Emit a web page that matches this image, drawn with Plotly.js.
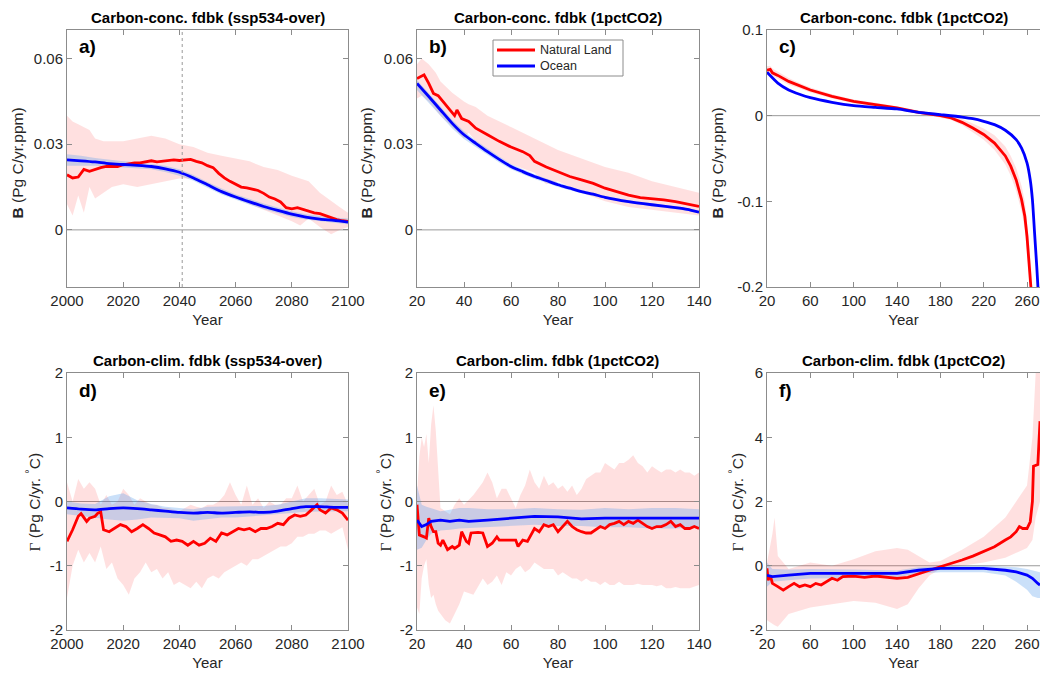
<!DOCTYPE html>
<html><head><meta charset="utf-8">
<script src="https://cdn.plot.ly/plotly-3.0.1.min.js"></script>
<style>body{margin:0;background:#fff}#chart{width:1040px;height:673px}</style>
</head><body><div id="chart"></div>
<script>
// ---------- Panel a: carbon-concentration feedback, ssp534-over ----------
const aLandYears = [2000,2002,2004,2006,2008,2010,2012,2014,2016,2018,2020,2022,2024,2026,2028,2030,2032,2034,2036,2038,2040,2042,2044,2046,2048,2050,2052,2054,2056,2058,2060,2062,2064,2066,2068,2070,2072,2074,2076,2078,2080,2082,2084,2086,2088,2090,2092,2094,2096,2098,2100];
const aLand = [0.0193,0.0182,0.0185,0.0212,0.0205,0.0212,0.0218,0.0222,0.0222,0.0222,0.0228,0.0232,0.0235,0.0235,0.0238,0.0242,0.0238,0.024,0.0242,0.0245,0.0243,0.0245,0.0247,0.024,0.0235,0.0225,0.0218,0.0198,0.0182,0.017,0.016,0.015,0.0147,0.0142,0.0138,0.0128,0.0115,0.0108,0.0098,0.0078,0.0074,0.0078,0.0072,0.0065,0.006,0.0057,0.005,0.0042,0.0036,0.0032,0.003];
const aBandYears = [2000,2002,2004,2006,2008,2010,2013,2016,2020,2025,2030,2035,2040,2045,2050,2055,2060,2065,2070,2075,2080,2083,2086,2090,2094,2097,2100];
const aLandHi = [0.040,0.038,0.037,0.036,0.035,0.032,0.031,0.031,0.031,0.032,0.033,0.032,0.030,0.029,0.027,0.026,0.025,0.024,0.022,0.021,0.019,0.018,0.017,0.013,0.010,0.008,0.006];
const aLandLo = [0.009,0.005,0.012,0.006,0.015,0.011,0.013,0.015,0.016,0.015,0.016,0.017,0.018,0.018,0.016,0.013,0.011,0.009,0.007,0.005,0.003,0.0015,0.004,0.001,-0.0015,0.0,0.001];
const aOceanYears = [2000,2005,2010,2015,2020,2025,2030,2035,2040,2045,2050,2055,2060,2065,2070,2075,2080,2085,2090,2095,2100];
const aOcean = [0.0245,0.0242,0.0238,0.0232,0.0229,0.0226,0.0222,0.0214,0.0202,0.0182,0.0158,0.0134,0.0115,0.0098,0.0082,0.0068,0.0055,0.0045,0.0038,0.0033,0.0027];
const aOceanHi = [0.0265,0.026,0.0252,0.0245,0.024,0.0237,0.0232,0.0225,0.0212,0.0192,0.0168,0.0145,0.0125,0.0108,0.0092,0.0078,0.0065,0.0055,0.0048,0.0043,0.004];
const aOceanLo = [0.0225,0.0225,0.0225,0.022,0.0218,0.0215,0.0212,0.0203,0.019,0.0172,0.0148,0.0124,0.0105,0.0088,0.0072,0.0058,0.0045,0.0036,0.003,0.0025,0.002];
const aMarkerYear = 2041;

// ---------- Panel b: carbon-concentration feedback, 1pctCO2 ----------
const bLandYears = [20,23,25,27,29,31,33,35,36,37,39,42,45,50,55,60,65,68,70,75,80,85,90,95,100,105,110,115,120,125,130,135,140];
const bLand = [0.053,0.0543,0.0513,0.0478,0.047,0.045,0.043,0.041,0.040,0.042,0.039,0.038,0.0356,0.0333,0.031,0.029,0.0274,0.026,0.024,0.022,0.0204,0.0187,0.0175,0.0163,0.0146,0.0134,0.0122,0.0113,0.011,0.0105,0.0099,0.0091,0.0082];
const bBandYears = [20,22,25,28,30,35,40,42,45,50,60,70,75,80,90,100,110,120,130,140];
const bLandHi = [0.058,0.060,0.058,0.055,0.052,0.048,0.045,0.044,0.043,0.040,0.036,0.032,0.030,0.028,0.025,0.022,0.020,0.017,0.015,0.013];
const bLandLo = [0.046,0.047,0.045,0.042,0.040,0.036,0.032,0.034,0.031,0.028,0.023,0.020,0.016,0.017,0.013,0.010,0.008,0.007,0.006,0.005];
const bOceanYears = [20,25,30,35,40,45,50,55,60,65,70,75,80,85,90,95,100,110,120,130,135,140];
const bOcean = [0.0513,0.0467,0.042,0.0373,0.0333,0.0303,0.0274,0.0247,0.0222,0.0204,0.0187,0.0173,0.0158,0.0146,0.0134,0.0125,0.0114,0.0099,0.0088,0.0078,0.0072,0.0062];
const bOceanHi = [0.0525,0.048,0.0432,0.0385,0.0345,0.0313,0.0284,0.0257,0.0231,0.0212,0.0195,0.018,0.0165,0.0152,0.014,0.013,0.0119,0.0104,0.0093,0.0083,0.0077,0.0067];
const bOceanLo = [0.049,0.0445,0.04,0.0355,0.0318,0.029,0.0262,0.0236,0.0212,0.0195,0.0178,0.0165,0.015,0.0139,0.0128,0.0119,0.0109,0.0094,0.0083,0.0073,0.0067,0.0057];

// ---------- Panel c: carbon-concentration feedback, 1pctCO2 (long) ----------
const cLandYears = [20,23,25,30,40,50,60,80,100,120,140,160,175,180,190,200,210,220,230,240,245,250,255,258,260,262,264,266];
const cLand = [0.053,0.054,0.050,0.047,0.040,0.035,0.030,0.0226,0.0167,0.0128,0.009,0.0039,0.0012,0,-0.0027,-0.0078,-0.0144,-0.022,-0.032,-0.047,-0.059,-0.075,-0.098,-0.1175,-0.141,-0.168,-0.2,-0.24];
const cLandHi = [0.058,0.058,0.055,0.051,0.044,0.038,0.033,0.025,0.019,0.015,0.011,0.006,0.003,0.002,0.0,-0.004,-0.009,-0.015,-0.023,-0.036,-0.047,-0.061,-0.082,-0.1,-0.122,-0.15,-0.18,-0.22];
const cLandLo = [0.049,0.05,0.046,0.043,0.036,0.032,0.027,0.02,0.0145,0.0105,0.007,0.002,-0.001,-0.002,-0.005,-0.011,-0.019,-0.028,-0.04,-0.057,-0.07,-0.088,-0.112,-0.133,-0.158,-0.186,-0.22,-0.26];
const cOceanYears = [20,30,40,50,60,80,100,120,140,160,180,200,210,220,230,240,250,255,260,263,265,267,269,271];
const cOcean = [0.0506,0.038,0.030,0.025,0.021,0.0156,0.0117,0.0097,0.0078,0.0039,0.0012,-0.0016,-0.0035,-0.0066,-0.0105,-0.017,-0.028,-0.038,-0.055,-0.075,-0.098,-0.137,-0.176,-0.22];

// ---------- Panel d: carbon-climate feedback, ssp534-over ----------
const dLandYears = [2000,2002,2004,2005,2007,2008,2010,2011,2012,2013,2015,2017,2019,2021,2023,2025,2027,2029,2031,2033,2035,2037,2039,2041,2043,2045,2047,2049,2051,2053,2055,2057,2059,2061,2063,2065,2067,2069,2071,2073,2075,2077,2079,2081,2083,2085,2087,2089,2090,2092,2094,2096,2098,2100];
const dLand = [-0.62,-0.44,-0.23,-0.19,-0.31,-0.26,-0.23,-0.18,-0.16,-0.44,-0.47,-0.42,-0.36,-0.39,-0.47,-0.42,-0.36,-0.42,-0.49,-0.52,-0.55,-0.62,-0.60,-0.62,-0.68,-0.62,-0.68,-0.65,-0.57,-0.62,-0.49,-0.52,-0.47,-0.42,-0.44,-0.42,-0.47,-0.42,-0.42,-0.39,-0.34,-0.36,-0.26,-0.21,-0.23,-0.21,-0.13,-0.05,-0.13,-0.18,-0.10,-0.13,-0.18,-0.29];
const dBandYears = [2000,2002,2004,2006,2008,2010,2012,2014,2016,2018,2020,2022,2024,2026,2028,2030,2032,2034,2036,2038,2040,2042,2044,2046,2048,2050,2052,2054,2056,2058,2060,2062,2064,2066,2068,2070,2072,2074,2076,2078,2080,2082,2084,2086,2088,2090,2092,2094,2096,2098,2100];
const dLandHi = [0.3,0.0,0.35,0.2,0.3,0.2,-0.05,0.1,-0.05,0.0,0.2,0.1,-0.05,0.05,0.0,-0.05,-0.05,-0.1,-0.1,-0.12,-0.15,-0.1,-0.05,-0.08,-0.1,-0.05,-0.05,0.0,0.1,0.3,0.1,-0.05,0.25,-0.05,0.05,-0.1,0.0,-0.05,-0.05,0.05,0.05,0.25,0.0,0.1,0.2,-0.05,0.0,0.25,0.1,0.15,-0.05];
const dLandLo = [-1.5,-1.0,-0.75,-0.95,-0.8,-0.95,-0.7,-1.05,-0.95,-1.2,-1.3,-1.45,-1.2,-1.1,-0.95,-1.1,-1.05,-1.2,-1.1,-1.3,-1.25,-1.3,-1.35,-1.25,-1.35,-1.2,-1.15,-1.2,-1.1,-1.05,-1.0,-0.95,-1.0,-0.9,-0.9,-0.85,-0.8,-0.75,-0.7,-0.7,-0.65,-0.55,-0.55,-0.5,-0.5,-0.45,-0.45,-0.5,-0.45,-0.4,-0.75];
const dOceanYears = [2000,2005,2010,2015,2020,2025,2030,2035,2040,2045,2050,2055,2060,2065,2070,2075,2080,2085,2090,2095,2100];
const dOcean = [-0.10,-0.12,-0.13,-0.11,-0.10,-0.11,-0.13,-0.15,-0.17,-0.18,-0.17,-0.18,-0.17,-0.16,-0.17,-0.15,-0.11,-0.08,-0.08,-0.09,-0.09];
const dOceanHi = [0.0,-0.03,-0.04,0.08,0.13,0.02,-0.04,-0.08,-0.1,-0.12,-0.08,-0.08,-0.08,-0.07,-0.07,-0.05,0.0,0.05,0.05,0.04,0.03];
const dOceanLo = [-0.2,-0.22,-0.25,-0.28,-0.3,-0.28,-0.25,-0.25,-0.26,-0.3,-0.28,-0.25,-0.25,-0.23,-0.22,-0.2,-0.18,-0.16,-0.15,-0.15,-0.15];

// ---------- Panel e: carbon-climate feedback, 1pctCO2 ----------
const eLandYears = [20,21,23,24,25,26,27,28,29,30,31,33,35,36,38,39,41,42,43,46,48,50,52,54,55,58,60,62,63,65,67,70,72,74,76,78,80,82,84,86,88,90,92,94,96,98,100,102,104,106,108,110,112,114,116,118,120,122,124,126,128,130,132,134,136,138,140];
const eLand = [-0.05,-0.52,-0.55,-0.57,-0.26,-0.39,-0.47,-0.47,-0.65,-0.68,-0.60,-0.75,-0.70,-0.73,-0.68,-0.47,-0.62,-0.65,-0.49,-0.48,-0.49,-0.70,-0.65,-0.55,-0.60,-0.60,-0.60,-0.60,-0.70,-0.60,-0.62,-0.42,-0.47,-0.36,-0.39,-0.36,-0.47,-0.39,-0.31,-0.39,-0.44,-0.47,-0.49,-0.49,-0.44,-0.39,-0.42,-0.36,-0.34,-0.31,-0.36,-0.31,-0.34,-0.29,-0.34,-0.39,-0.42,-0.39,-0.39,-0.36,-0.31,-0.39,-0.36,-0.42,-0.42,-0.39,-0.42];
const eBandYears = [20,21,22,23,24,25,26,27,28,29,30,32,34,36,38,40,44,48,50,52,54,56,58,60,62,64,66,68,70,72,74,76,78,80,82,84,86,88,90,92,94,96,98,100,102,104,106,108,110,112,114,116,118,120,122,124,126,128,130,132,134,136,138,140];
const eLandHi = [0.1,0.7,1.0,0.85,1.05,0.6,1.2,1.5,1.1,0.4,-0.1,-0.15,-0.2,-0.05,0.05,-0.05,0.1,0.3,0.45,0.3,0.05,0.2,0.2,0.05,-0.1,0.1,0.25,0.5,0.3,0.2,0.4,0.25,0.3,0.2,0.25,0.15,0.25,0.1,0.2,0.35,0.4,0.45,0.45,0.6,0.55,0.5,0.6,0.6,0.65,0.72,0.6,0.55,0.45,0.55,0.5,0.45,0.5,0.5,0.45,0.5,0.45,0.45,0.4,0.45];
const eLandLo = [-1.65,-1.75,-1.2,-1.0,-0.9,-1.3,-1.5,-1.45,-1.6,-1.7,-1.75,-1.85,-1.9,-1.75,-1.6,-1.4,-1.45,-1.2,-1.3,-1.25,-1.15,-1.3,-1.1,-1.15,-1.05,-1.0,-1.1,-1.05,-0.95,-1.0,-1.05,-1.05,-1.05,-1.15,-1.1,-1.15,-1.2,-1.2,-1.25,-1.2,-1.25,-1.25,-1.3,-1.25,-1.3,-1.3,-1.25,-1.3,-1.3,-1.3,-1.28,-1.3,-1.3,-1.3,-1.32,-1.3,-1.35,-1.35,-1.33,-1.35,-1.35,-1.35,-1.33,-1.3];
const eOceanYears = [20,22,24,26,30,34,38,42,50,60,70,80,90,100,110,120,130,140];
const eOcean = [-0.29,-0.39,-0.36,-0.31,-0.29,-0.31,-0.29,-0.31,-0.29,-0.26,-0.23,-0.24,-0.27,-0.26,-0.26,-0.27,-0.27,-0.26];
const eOceanHi = [0.25,-0.05,-0.08,-0.1,-0.15,-0.13,-0.1,-0.1,-0.12,-0.12,-0.1,-0.12,-0.13,-0.1,-0.12,-0.1,-0.1,-0.12];
const eOceanLo = [-0.75,-0.72,-0.6,-0.5,-0.45,-0.44,-0.42,-0.42,-0.4,-0.38,-0.36,-0.38,-0.38,-0.4,-0.4,-0.42,-0.42,-0.4];

// ---------- Panel f: carbon-climate feedback, 1pctCO2 (long) ----------
const fLandYears = [20,21,23,25,30,35,40,45,50,55,60,65,70,75,80,85,90,100,110,120,130,140,150,160,170,180,190,200,210,220,230,240,245,250,253,256,260,263,265,266,270,272];
const fLand = [-0.08,-0.45,-0.3,-0.55,-0.65,-0.76,-0.65,-0.55,-0.65,-0.6,-0.65,-0.55,-0.6,-0.5,-0.39,-0.45,-0.34,-0.32,-0.36,-0.32,-0.36,-0.39,-0.36,-0.24,-0.14,-0.03,0.07,0.18,0.3,0.44,0.59,0.8,0.9,1.06,1.22,1.16,1.16,1.37,2.0,3.1,3.15,4.5];
const fBandYears = [20,25,27,30,40,60,80,100,120,140,150,160,170,180,200,220,240,250,260,265,268,272];
const fLandHi = [0.1,1.0,1.5,0.3,-0.1,0.1,0.0,0.2,0.45,0.55,0.5,0.3,0.1,0.15,0.5,0.9,1.5,2.0,2.5,4.0,6.0,6.0];
const fLandLo = [-1.7,-1.8,-1.85,-1.9,-1.5,-1.3,-1.2,-1.1,-1.15,-1.35,-1.2,-0.7,-0.3,-0.1,0.0,0.1,0.25,0.4,0.55,0.8,1.5,2.0];
const fOceanYears = [20,25,40,60,100,140,160,180,200,220,240,250,260,265,270,272];
const fOcean = [-0.3,-0.34,-0.29,-0.24,-0.24,-0.24,-0.14,-0.08,-0.08,-0.08,-0.14,-0.19,-0.29,-0.39,-0.55,-0.6];
const fOceanHi = [0.1,-0.1,-0.12,-0.1,-0.12,-0.15,-0.05,-0.02,0.0,0.0,-0.02,-0.05,-0.1,-0.15,-0.2,-0.2];
const fOceanLo = [-0.65,-0.5,-0.45,-0.4,-0.38,-0.35,-0.25,-0.2,-0.2,-0.2,-0.3,-0.5,-0.75,-0.95,-1.0,-1.0];

// ---------- labels ----------
const panelTitles = ['Carbon-conc. fdbk (ssp534-over)','Carbon-conc. fdbk (1pctCO2)','Carbon-conc. fdbk (1pctCO2)','Carbon-clim. fdbk (ssp534-over)','Carbon-clim. fdbk (1pctCO2)','Carbon-clim. fdbk (1pctCO2)'];
const panelLetters = ['a)','b)','c)','d)','e)','f)'];
const seriesNames = ['Natural Land','Ocean'];
const yTitleB = '<b>B</b> (Pg C/yr.ppm)';
const yTitleG = '<span style="font-family:Liberation Serif">Γ</span> (Pg C/yr. <sup>°</sup>C)';
const bTicks = [0, 0.03, 0.06];
const bTickText = ['0','0.03','0.06'];
const cTicks = [-0.2,-0.1,0,0.1];
const cTickText = ['-0.2','-0.1','0','0.1'];
const gTicks = [-2,-1,0,1,2];
const gTickText = ['-2','-1','0','1','2'];
const fTicks = [-2,0,2,4,6];
const fTickText = ['-2','0','2','4','6'];
const ssTicks = [2000,2020,2040,2060,2080,2100];
const pcTicks = [20,40,60,80,100,120,140];
const longTicks = [20,60,100,140,180,220,260];

// ---------- styling ----------
const RED = '#ff0000', BLUE = '#0000ff';
const RED_BAND = 'rgba(255,0,0,0.12)', BLUE_BAND = 'rgba(90,160,235,0.32)';
const AX = '#8c8c8c', TXT = '#262626';
const FONT = 'Liberation Sans, Arial, Helvetica, sans-serif';
const W = 1040, H = 673;
const colsPx = [[67,348],[417,699],[767,1040]];
const rowsPx = [[30,287],[373,630]];
const yTitleX = [[17,366,717],[33,384,736]];

function band(x, hi, lo, color, xa, ya) {
  return {x: x.concat(x.slice().reverse()), y: hi.concat(lo.slice().reverse()),
    fill:'toself', fillcolor:color, line:{width:0, color:color}, mode:'lines',
    hoverinfo:'skip', showlegend:false, xaxis:xa, yaxis:ya};
}
function line(x, y, color, xa, ya, name, shape) {
  return {x:x, y:y, mode:'lines', line:{color:color, width:2.8, shape:shape||'linear', smoothing:0.6},
    name:name, showlegend:false, xaxis:xa, yaxis:ya};
}

const traces = [
  band(aBandYears, aLandHi, aLandLo, RED_BAND, 'x','y'),
  band(aOceanYears, aOceanHi, aOceanLo, BLUE_BAND, 'x','y'),
  line(aLandYears, aLand, RED, 'x','y', seriesNames[0]),
  line(aOceanYears, aOcean, BLUE, 'x','y', seriesNames[1], 'spline'),

  band(bBandYears, bLandHi, bLandLo, RED_BAND, 'x2','y2'),
  band(bOceanYears, bOceanHi, bOceanLo, BLUE_BAND, 'x2','y2'),
  line(bLandYears, bLand, RED, 'x2','y2', seriesNames[0]),
  line(bOceanYears, bOcean, BLUE, 'x2','y2', seriesNames[1], 'spline'),

  band(cLandYears, cLandHi, cLandLo, RED_BAND, 'x3','y3'),
  line(cLandYears, cLand, RED, 'x3','y3', seriesNames[0]),
  line(cOceanYears, cOcean, BLUE, 'x3','y3', seriesNames[1], 'spline'),

  band(dBandYears, dLandHi, dLandLo, RED_BAND, 'x4','y4'),
  band(dOceanYears, dOceanHi, dOceanLo, BLUE_BAND, 'x4','y4'),
  line(dLandYears, dLand, RED, 'x4','y4', seriesNames[0]),
  line(dOceanYears, dOcean, BLUE, 'x4','y4', seriesNames[1], 'spline'),

  band(eBandYears, eLandHi, eLandLo, RED_BAND, 'x5','y5'),
  band(eOceanYears, eOceanHi, eOceanLo, BLUE_BAND, 'x5','y5'),
  line(eLandYears, eLand, RED, 'x5','y5', seriesNames[0]),
  line(eOceanYears, eOcean, BLUE, 'x5','y5', seriesNames[1]),

  band(fBandYears, fLandHi, fLandLo, RED_BAND, 'x6','y6'),
  band(fOceanYears, fOceanHi, fOceanLo, BLUE_BAND, 'x6','y6'),
  line(fLandYears, fLand, RED, 'x6','y6', seriesNames[0]),
  line(fOceanYears, fOcean, BLUE, 'x6','y6', seriesNames[1]),
];

function xax(col, row, range, ticks, anchor) {
  return {domain:[colsPx[col][0]/W, colsPx[col][1]/W], anchor:anchor, range:range,
    tickvals:ticks, ticktext:ticks.map(String), ticks:'inside', ticklen:5, tickcolor:AX,
    showline:true, linecolor:AX, linewidth:1, mirror:'ticks', showgrid:false, zeroline:false,
    tickfont:{size:15, color:TXT, family:FONT},
    title:{text:'Year', font:{size:15, color:TXT, family:FONT}, standoff:6}};
}
function yax(col, row, range, ticks, text, anchor, mirror) {
  return {domain:[1-rowsPx[row][1]/H, 1-rowsPx[row][0]/H], anchor:anchor, range:range,
    tickvals:ticks, ticktext:text, ticks:'inside', ticklen:5, tickcolor:AX,
    showline:true, linecolor:AX, linewidth:1, mirror:mirror, showgrid:false, zeroline:false,
    tickfont:{size:15, color:TXT, family:FONT}};
}

const layout = {
  width:W, height:H, margin:{l:0,r:0,t:0,b:0},
  paper_bgcolor:'#fff', plot_bgcolor:'#fff',
  font:{family:FONT, size:14, color:TXT},
  showlegend:false,
  xaxis: xax(0,0,[2000,2100], ssTicks, 'y'),
  yaxis: yax(0,0,[-0.02,0.07], bTicks, bTickText, 'x', 'ticks'),
  xaxis2: xax(1,0,[20,140], pcTicks, 'y2'),
  yaxis2: yax(1,0,[-0.02,0.07], bTicks, bTickText, 'x2', 'ticks'),
  xaxis3: xax(2,0,[20,272], longTicks, 'y3'),
  yaxis3: yax(2,0,[-0.2,0.1], cTicks, cTickText, 'x3', false),
  xaxis4: xax(0,1,[2000,2100], ssTicks, 'y4'),
  yaxis4: yax(0,1,[-2,2], gTicks, gTickText, 'x4', 'ticks'),
  xaxis5: xax(1,1,[20,140], pcTicks, 'y5'),
  yaxis5: yax(1,1,[-2,2], gTicks, gTickText, 'x5', 'ticks'),
  xaxis6: xax(2,1,[20,272], longTicks, 'y6'),
  yaxis6: yax(2,1,[-2,6], fTicks, fTickText, 'x6', false),
  shapes:[], annotations:[]
};

const axPairs = [['x','y'],['x2','y2'],['x3','y3'],['x4','y4'],['x5','y5'],['x6','y6']];
axPairs.forEach((p,i)=>{
  layout.shapes.push({type:'line', layer:'below', xref:p[0]+' domain', yref:p[1], x0:0, x1:1, y0:0, y1:0,
    line:{color:'#9a9a9a', width:1}});
  const col = i%3, row = Math.floor(i/3);
  const cx = (colsPx[col][0] + Math.min(colsPx[col][0]+281, 1040))/2;
  layout.annotations.push({xref:'paper', yref:'paper', x:cx/W, y:1-(rowsPx[row][0]-13)/H,
    text:'<b>'+panelTitles[i]+'</b>', showarrow:false, xanchor:'center', yanchor:'middle',
    font:{size:15, color:'#000', family:FONT}});
  layout.annotations.push({xref:'paper', yref:'paper', x:(colsPx[col][0]+10)/W, y:1-(rowsPx[row][0]+17)/H,
    text:'<b>'+panelLetters[i]+'</b>', showarrow:false, xanchor:'left', yanchor:'middle',
    font:{size:19, color:'#000', family:FONT}});
  const ymid = (rowsPx[row][0]+rowsPx[row][1])/2 + (row===0 ? 5 : 1);
  layout.annotations.push({xref:'paper', yref:'paper', x:yTitleX[row][col]/W, y:1-ymid/H,
    text: row===0 ? yTitleB : yTitleG, textangle:-90, showarrow:false, xanchor:'center', yanchor:'middle',
    font:{size:15.5, color:TXT, family:FONT}});
});
layout.shapes.push({type:'line', xref:'x', yref:'y domain', x0:aMarkerYear, x1:aMarkerYear, y0:0, y1:1,
  line:{color:'#9a9a9a', width:1, dash:'dot'}});

// legend drawn in panel b (box, line samples, labels)
const legBox = {x0:493, x1:623, y0:40, y1:76};
const legRows = [{y:50, color:RED, name:seriesNames[0]}, {y:66, color:BLUE, name:seriesNames[1]}];
layout.shapes.push({type:'rect', xref:'paper', yref:'paper', x0:legBox.x0/W, x1:legBox.x1/W,
  y0:1-legBox.y1/H, y1:1-legBox.y0/H, fillcolor:'#fff', line:{color:'#8c8c8c', width:1}});
legRows.forEach(r=>{
  layout.shapes.push({type:'line', xref:'paper', yref:'paper', x0:497/W, x1:535/W, y0:1-r.y/H, y1:1-r.y/H,
    line:{color:r.color, width:2.8}});
  layout.annotations.push({xref:'paper', yref:'paper', x:538/W, y:1-r.y/H, text:r.name, showarrow:false,
    xanchor:'left', yanchor:'middle', font:{size:12.5, color:TXT, family:FONT}});
});

Plotly.newPlot('chart', traces, layout, {staticPlot:true, displayModeBar:false});
</script></body></html>
